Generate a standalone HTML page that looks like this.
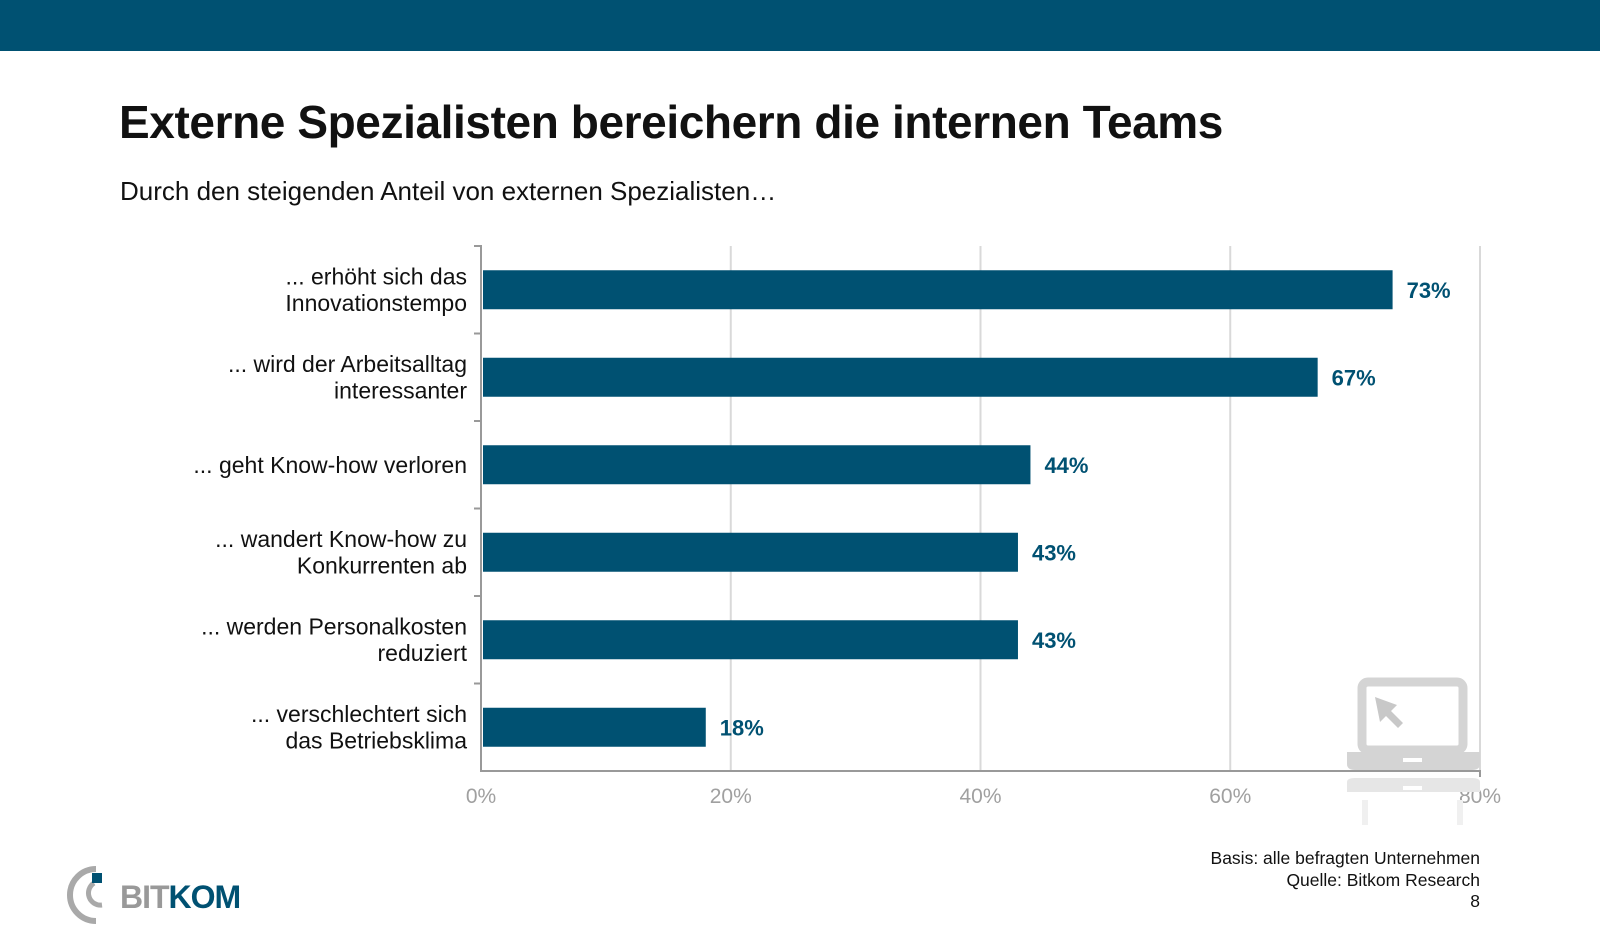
<!DOCTYPE html>
<html><head><meta charset="utf-8"><style>
body{margin:0;width:1600px;height:946px;background:#fff;font-family:"Liberation Sans",sans-serif;overflow:hidden;position:relative}
.a{position:absolute}
</style></head><body>
<div class="a" style="left:0;top:0;width:1600px;height:51px;background:#005172"></div>
<div class="a" style="left:119px;top:95px;font-size:46px;font-weight:bold;color:#111;letter-spacing:-0.4px">Externe Spezialisten bereichern die internen Teams</div>
<div class="a" style="left:120px;top:176px;font-size:26px;color:#111">Durch den steigenden Anteil von externen Spezialisten…</div>
<svg class="a" style="left:0;top:0" width="1600" height="946">
<g id="grid"></g><g id="bars"></g><g id="labels"></g>
<g fill="#d4d4d4">
<rect x="1362" y="682" width="101" height="68" rx="6" fill="none" stroke="#d4d4d4" stroke-width="9"/>
<polygon points="1375,697 1397,705 1391,711 1403,723 1398,728 1386,716 1380,722" fill="#c8c8c8"/>
<path d="M1347,752 H1480 V764 Q1480,770 1472,770 H1355 Q1347,770 1347,764 Z"/>
<rect x="1403" y="758" width="19" height="4" fill="#fff"/>
<path d="M1347,792 V782 Q1347,778 1355,778 H1472 Q1480,778 1480,782 V792 Z" fill="#e6e6e6"/>
<rect x="1403" y="786" width="19" height="4" fill="#fff"/>
<rect x="1362" y="800" width="6" height="25" fill="#f0f0f0"/><rect x="1457" y="800" width="6" height="25" fill="#f0f0f0"/>
</g>
</svg>
<div class="a" style="right:120px;top:848px;font-size:17.5px;line-height:21.5px;color:#111;text-align:right">Basis: alle befragten Unternehmen<br>Quelle: Bitkom Research<br>8</div>
<div class="a" style="left:66px;top:865px;width:180px;height:60px">
<svg width="60" height="60" style="position:absolute;left:0;top:0"><path d="M30,4 A26,26 0 0 0 30,56" fill="none" stroke="#a9a9a9" stroke-width="6"/><path d="M28,18 A12,12 0 0 0 36,40" fill="none" stroke="#a9a9a9" stroke-width="5"/><rect x="26" y="8" width="10" height="10" fill="#005172"/></svg>
<div style="position:absolute;left:54px;top:14px;font-size:32px;font-weight:bold;letter-spacing:-1px"><span style="color:#999">BIT</span><span style="color:#005172">KOM</span></div>
</div>
<script>
const categories=["... erhöht sich das|Innovationstempo","... wird der Arbeitsalltag|interessanter","... geht Know-how verloren","... wandert Know-how zu|Konkurrenten ab","... werden Personalkosten|reduziert","... verschlechtert sich|das Betriebsklima"];
const values=[73,67,44,43,43,18];
const ticks=[0,20,40,60,80];
const tickLabels=["0%","20%","40%","60%","80%"];
const NS="http://www.w3.org/2000/svg";
const X0=481,X1=1480,Y0=246,Y1=771,MAX=80;
const xs=v=>X0+(X1-X0)*v/MAX;
const band=(Y1-Y0)/categories.length;
function mk(t,a,p){const e=document.createElementNS(NS,t);for(const k in a)e.setAttribute(k,a[k]);p.appendChild(e);return e;}
const g=document.getElementById('grid'),b=document.getElementById('bars'),l=document.getElementById('labels');
ticks.forEach((t,i)=>{
 if(i>0){const ln=mk('line',{x1:xs(t),x2:xs(t),y1:Y0,y2:Y1,stroke:'#d9d9d9','stroke-width':2},g);
 
 }
 const tx=mk('text',{x:xs(t),y:803,'text-anchor':'middle','font-size':21,fill:'#a0a0a0','font-family':'Liberation Sans'},l);
 tx.textContent=tickLabels[i];
 
 
});
const ax=mk('path',{d:`M${X0-7},${Y0} H${X0} V${Y1} H${X1} V${Y1+6}`,fill:'none',stroke:'#999','stroke-width':2},g);


for(let i=1;i<categories.length;i++){const tk=mk('line',{x1:X0-7,x2:X0,y1:Y0+band*i,y2:Y0+band*i,stroke:'#999','stroke-width':2},g);
 
 }
categories.forEach((c,i)=>{
 const cy=Y0+band*(i+0.5);
 const r=mk('rect',{x:X0+2,y:cy-19.5,width:xs(values[i])-X0-2,height:39,fill:'#005172'},b);
 
 
 const v=mk('text',{x:xs(values[i])+14,y:cy+8,'font-size':22,'font-weight':'bold',fill:'#005172','font-family':'Liberation Sans'},l);
 v.textContent=values[i]+'%';
 
 
 const lines=c.split('|');
 lines.forEach((s,j)=>{
  const y=cy+8+(j-(lines.length-1)/2)*26.5;
  const t=mk('text',{x:467,y:y,'text-anchor':'end','font-size':23,fill:'#111','font-family':'Liberation Sans'},l);
  t.textContent=s;
  
  
 });
});
</script>
</body></html>
